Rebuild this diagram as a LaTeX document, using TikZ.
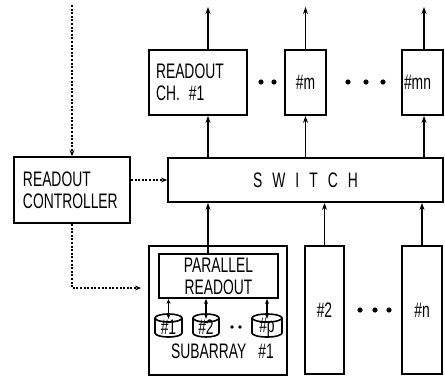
\documentclass[tikz,border=0pt]{standalone}
\usepackage{fontspec}
\newfontfamily\cf[FakeStretch=0.66]{Liberation Sans}
\usetikzlibrary{arrows.meta}
\begin{document}
\begin{tikzpicture}[x=1pt,y=-1pt,
  box/.style={draw,line width=1.8pt,inner sep=0pt},
  txt/.style={font=\cf\fontsize{21}{22}\selectfont},
  stxt/.style={font=\cf\fontsize{20}{21}\selectfont},
  arr/.style={line width=1.8pt,-{Stealth[length=7pt,width=5pt]}},
  darr/.style={line width=1.6pt,{Stealth[length=5pt,width=4pt]}-{Stealth[length=5pt,width=4pt]}},
  dotl/.style={line width=2pt,dash pattern=on 2pt off 1.6pt,-{Stealth[length=6pt,width=5pt]}},
  cyl/.style={draw,line width=1.6pt},
]
\useasboundingbox (0,0) rectangle (445,378);

% readout channels
\node[box,txt,minimum width=98pt,minimum height=65pt,text width=84pt,align=left] (r1) at (198,82.5) {READOUT\\CH.\hspace{9pt}\#1};
\node[box,txt,minimum width=41pt,minimum height=65pt] (rm) at (305.5,82.5) {\#m};
\node[box,txt,minimum width=41pt,minimum height=65pt] (rmn) at (422.5,82.5) {\hspace{-10pt}\#mn};

% controller and switch
\node[box,txt,minimum width=116pt,minimum height=66pt,text width=98pt,align=left] (ctrl) at (72,190) {READOUT\\CONTROLLER};
\node[box,txt,minimum width=275pt,minimum height=44pt] (sw) at (305.5,180) {S\kern10pt W\kern10pt I\kern10pt T\kern10pt C\kern10pt H};

% subarrays
\node[box,minimum width=138pt,minimum height=129pt] (s1) at (218,310.5) {};
\node[box,txt,minimum width=119pt,minimum height=44pt,align=center] (pr) at (218.5,276) {PARALLEL\\READOUT};
\node[txt,anchor=base] (sublab) at (222.5,358) {SUBARRAY\hspace{12pt}\#1};
\node[box,txt,minimum width=39pt,minimum height=128pt] (s2) at (324.5,310) {\#2};
\node[box,txt,minimum width=40pt,minimum height=128pt] (sn) at (422,310) {\#n};

% cylinders
\def\cylinder#1#2#3#4{% name, cx, half width, label
  \draw[cyl] (#2-#3,318) -- (#2-#3,333) arc[start angle=180,end angle=0,x radius=#3,y radius=4] -- (#2+#3,318);
  \draw[cyl] (#2,318) ellipse[x radius=#3,y radius=4];
  \node[txt,inner sep=0pt,minimum width=2*#3 pt,minimum height=23pt] (#1) at (#2,327) {#4};
}
\cylinder{c1}{168.5}{13.5}{\#1}
\cylinder{c2}{206}{13}{\#2}
\cylinder{cp}{267}{15}{\#p}

% output arrows
\coordinate (o1) at (208,7);
\coordinate (o2) at (305.5,7);
\coordinate (o3) at (424,7);
\draw[arr] (r1.north -| o1) -- (o1);
\draw[arr] (rm.north -| o2) -- (o2);
\draw[arr] (rmn.north -| o3) -- (o3);
\draw[arr] (sw.north -| o1) -- (r1.south -| o1);
\draw[arr] (sw.north -| o2) -- (rm.south -| o2);
\draw[arr] (sw.north -| o3) -- (rmn.south -| o3);

% input arrows
\draw[arr] (pr.north -| o1) -- (sw.south -| o1);
\draw[arr] (s2.north) -- (sw.south -| s2.north);
\draw[arr] (sn.north) -- (sw.south -| sn.north);

% parallel readout <-> cells
\draw[darr] (pr.south -| c1) -- ([yshift=-3.5pt]c1.north);
\draw[darr] (pr.south -| c2) -- ([yshift=-3.5pt]c2.north);
\draw[darr] (pr.south -| cp) -- ([yshift=-3.5pt]cp.north);

% control lines
\coordinate (t) at (72,5);
\coordinate (bend) at (72,288);
\draw[dotl] (t) -- (ctrl.north);
\draw[dotl] (ctrl.east |- sw.west) -- (sw.west);
\draw[dotl,shorten >=7pt] (ctrl.south) -- (bend) -- (s1.west |- bend);

% dots
\foreach \x in {261,274} \fill (\x,82) circle (2.6pt);
\foreach \x in {348,366,383} \fill (\x,82) circle (2.6pt);
\foreach \x in {360,375,389} \fill (\x,310) circle (2.6pt);
\foreach \x in {232,240} \fill (\x,327) circle (1.8pt);
\end{tikzpicture}
\end{document}
